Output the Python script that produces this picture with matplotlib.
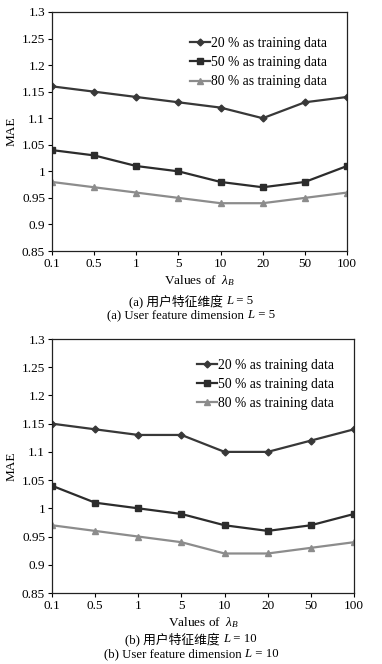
import matplotlib
matplotlib.use("Agg")
import matplotlib.pyplot as plt

x_labels = ["0.1", "0.5", "1", "5", "10", "20", "50", "100"]
series_names = ["20 % as training data", "50 % as training data", "80 % as training data"]

a_20 = [1.16, 1.15, 1.14, 1.13, 1.12, 1.10, 1.13, 1.14]
a_50 = [1.04, 1.03, 1.01, 1.00, 0.98, 0.97, 0.98, 1.01]
a_80 = [0.98, 0.97, 0.96, 0.95, 0.94, 0.94, 0.95, 0.96]

b_20 = [1.15, 1.14, 1.13, 1.13, 1.10, 1.10, 1.12, 1.14]
b_50 = [1.04, 1.01, 1.00, 0.99, 0.97, 0.96, 0.97, 0.99]
b_80 = [0.97, 0.96, 0.95, 0.94, 0.92, 0.92, 0.93, 0.94]

y_ticks = [0.85, 0.9, 0.95, 1.0, 1.05, 1.1, 1.15, 1.2, 1.25, 1.3]
y_tick_labels = ["0.85", "0.9", "0.95", "1", "1.05", "1.1", "1.15", "1.2", "1.25", "1.3"]

captions_a = [[("(a) 用户特征维度 ", "normal"), ("L", "italic"), (" = 5", "normal")],
              [("(a) User feature dimension ", "normal"), ("L", "italic"), (" = 5", "normal")]]
captions_b = [[("(b) 用户特征维度 ", "normal"), ("L", "italic"), (" = 10", "normal")],
              [("(b) User feature dimension ", "normal"), ("L", "italic"), (" = 10", "normal")]]

FAM = ['Liberation Serif', 'Noto Sans CJK SC']
plt.rcParams['font.family'] = FAM
plt.rcParams['mathtext.fontset'] = 'custom'
plt.rcParams['mathtext.it'] = 'Liberation Serif:italic'
plt.rcParams['mathtext.rm'] = 'Liberation Serif'

W, H = 382, 664
fig = plt.figure(figsize=(W / 100, H / 100), dpi=100)
fig.patch.set_facecolor('white')

styles = [
    dict(color='#383838', marker='D', markersize=3.5),
    dict(color='#2c2c2c', marker='s', markersize=4),
    dict(color='#8c8c8c', marker='^', markersize=4.5),
]

def draw(ax, data, leg_xy):
    xs = list(range(len(x_labels)))
    for d, name, st in zip(data, series_names, styles):
        ax.plot(xs, d, lw=1.6, label=name, **st)
    ax.set_xlim(0, len(x_labels) - 1)
    ax.set_ylim(0.85, 1.3)
    ax.set_xticks(xs)
    ax.set_xticklabels(x_labels, fontsize=9.5)
    ax.set_yticks(y_ticks)
    ax.set_yticklabels(y_tick_labels, fontsize=9.5)
    ax.tick_params(direction='out', length=3, width=0.8, pad=2)
    for s in ax.spines.values():
        s.set_linewidth(0.9)
        s.set_color('#222222')
    ax.set_ylabel("MAE", fontsize=9.5, labelpad=3)
    ax.set_xlabel(r"Values of  $\lambda_B$", fontsize=9.5, labelpad=2)
    ax.legend(loc='upper left', bbox_to_anchor=leg_xy, frameon=False,
              fontsize=9.8, handlelength=1.45, handletextpad=0.1, labelspacing=0.45,
              borderaxespad=0, borderpad=0)

renderer = fig.canvas.get_renderer()

def caption(parts, y_px):
    texts = []
    for s, st in parts:
        t = fig.text(0, 1 - y_px / H, s, ha='left', va='center', fontsize=9.2,
                     fontstyle=st, family=FAM)
        texts.append(t)
    widths = [t.get_window_extent(renderer).width for t in texts]
    total = sum(widths)
    x = W * 0.5 - total / 2
    for t, w in zip(texts, widths):
        t.set_x(x / W)
        x += w

ax1 = fig.add_axes([52 / W, 1 - 251 / H, 295 / W, 239 / H])
draw(ax1, [a_20, a_50, a_80], (0.468, 0.895))
caption(captions_a[0], 301)
caption(captions_a[1], 315)

ax2 = fig.add_axes([52 / W, 1 - 593 / H, 302 / W, 254 / H])
draw(ax2, [b_20, b_50, b_80], (0.48, 0.922))
caption(captions_b[0], 639)
caption(captions_b[1], 654)

fig.savefig("out.png", dpi=100, facecolor='white')
